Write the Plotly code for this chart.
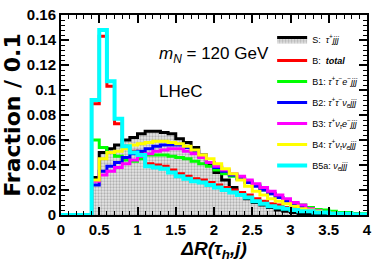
import plotly.graph_objects as go

# ---- data: fraction per 0.1 bin of Delta R(tau_h, j), bins 0.0 .. 3.9 ----
bin_lo = [round(0.1 * i, 1) for i in range(40)]
bin_width = 0.1

S_signal = [0, 0, 0, 0, 0.030, 0.050, 0.053, 0.056, 0.060, 0.062,
            0.065, 0.067, 0.067, 0.066, 0.065, 0.061, 0.058, 0.054, 0.048, 0.041,
            0.034, 0.028, 0.022, 0.017, 0.013, 0.010, 0.008, 0.006, 0.004, 0.003,
            0.002, 0.001, 0.0005, 0.0003, 0, 0, 0, 0, 0, 0]
B_total = [0, 0, 0, 0, 0.089, 0.143, 0.103, 0.073, 0.055, 0.051,
           0.049, 0.041, 0.040, 0.039, 0.036, 0.033, 0.031, 0.029, 0.028, 0.026,
           0.024, 0.022, 0.020, 0.018, 0.016, 0.013, 0.011, 0.009, 0.008, 0.006,
           0.005, 0.004, 0.003, 0.003, 0.002, 0.002, 0.001, 0.001, 0.001, 0.0005]
B1 = [0, 0, 0, 0, 0.060, 0.054, 0.050, 0.047, 0.044, 0.043,
      0.045, 0.048, 0.048, 0.048, 0.047, 0.046, 0.045, 0.043, 0.041, 0.039,
      0.036, 0.033, 0.031, 0.029, 0.027, 0.024, 0.020, 0.017, 0.014, 0.012,
      0.009, 0.008, 0.006, 0.0045, 0.004, 0.003, 0.002, 0.002, 0.001, 0.001]
B2 = [0, 0, 0, 0, 0.024, 0.035, 0.039, 0.042, 0.046, 0.049,
      0.051, 0.053, 0.055, 0.056, 0.056, 0.056, 0.054, 0.051, 0.047, 0.042,
      0.038, 0.035, 0.032, 0.029, 0.026, 0.023, 0.020, 0.017, 0.014, 0.011,
      0.008, 0.006, 0.004, 0.003, 0.002, 0.001, 0.001, 0.0005, 0.0003, 0]
B3 = [0, 0, 0, 0, 0.027, 0.032, 0.035, 0.038, 0.041, 0.044,
      0.047, 0.049, 0.051, 0.052, 0.053, 0.053, 0.051, 0.049, 0.046, 0.042,
      0.039, 0.036, 0.033, 0.031, 0.028, 0.025, 0.022, 0.019, 0.016, 0.013,
      0.010, 0.008, 0.005, 0.0035, 0.002, 0.0015, 0.001, 0.0008, 0.0005, 0.0003]
B4 = [0, 0, 0, 0, 0.028, 0.045, 0.050, 0.051, 0.053, 0.056,
      0.057, 0.058, 0.059, 0.059, 0.058, 0.057, 0.055, 0.052, 0.048, 0.045,
      0.041, 0.037, 0.033, 0.028, 0.023, 0.019, 0.016, 0.013, 0.011, 0.009,
      0.007, 0.005, 0.004, 0.003, 0.002, 0.0015, 0.001, 0.001, 0.0005, 0.0003]
B5a = [0, 0, 0, 0, 0.092, 0.148, 0.107, 0.077, 0.055, 0.050,
       0.048, 0.039, 0.038, 0.037, 0.034, 0.031, 0.029, 0.027, 0.026, 0.024,
       0.022, 0.020, 0.018, 0.016, 0.014, 0.011, 0.009, 0.007, 0.006, 0.005,
       0.004, 0.003, 0.003, 0.002, 0.002, 0.001, 0.001, 0.001, 0.0005, 0.0005]

series_names = [
    "S:  <i>τ<sup>+</sup>jjj</i>",
    "B:  <b><i>total</i></b>",
    "B1: <i>τ<sup>+</sup>τ<sup>−</sup>e<sup>−</sup>jjj</i>",
    "B2: <i>τ<sup>+</sup>τ<sup>−</sup>ν<sub>e</sub>jjj</i>",
    "B3: <i>τ<sup>+</sup>ν<sub>τ</sub>e<sup>−</sup>jjj</i>",
    "B4: <i>τ<sup>+</sup>ν<sub>τ</sub>ν<sub>e</sub>jjj</i>",
    "B5a: <i>ν<sub>e</sub>jjj</i>",
]
series_values = [S_signal, B_total, B1, B2, B3, B4, B5a]
series_colors = ["#000000", "#ff0000", "#00ff00", "#0000ff", "#ff00ff", "#ffff00", "#00ffff"]

y_tickvals = [0, 0.02, 0.04, 0.06, 0.08, 0.1, 0.12, 0.14, 0.16]
y_ticktext = ["0", "0.02", "0.04", "0.06", "0.08", "0.1", "0.12", "0.14", "0.16"]
x_tickvals = [0, 0.5, 1, 1.5, 2, 2.5, 3, 3.5, 4]
x_ticktext = ["0", "0.5", "1", "1.5", "2", "2.5", "3", "3.5", "4"]

SANS = "Liberation Sans, Arial, sans-serif"

fig = go.Figure()
edges = bin_lo + [round(bin_lo[-1] + bin_width, 1)]
for i, (name, vals, col) in enumerate(zip(series_names, series_values, series_colors)):
    yv = list(vals) + [vals[-1]]
    kw = {}
    if i == 0:
        kw = dict(fill="tozeroy",
                  fillcolor="#d9d9d9",
                  fillpattern=dict(shape=".", fgcolor="#7a7a7a", bgcolor="#e6e6e6",
                                   size=3, solidity=0.45))
    fig.add_trace(go.Scatter(
        x=edges, y=yv, mode="lines", name=name, legendgroup=f"g{i}",
        line=dict(color=col, width=4 if i == 6 else 3, shape="hv"),
        **kw))

axis_common = dict(
    showline=True, linecolor="black", linewidth=2, mirror="allticks",
    ticks="inside", ticklen=8, tickwidth=1.5, tickcolor="black",
    showgrid=False, zeroline=False,
    tickfont=dict(family=SANS, size=15, color="black", weight="bold"),
)

fig.update_xaxes(range=[0, 4], tickmode="array", tickvals=x_tickvals, ticktext=x_ticktext,
                 minor=dict(ticks="inside", ticklen=4, dtick=0.1, tick0=0, tickwidth=1, tickcolor="black"),
                 title=dict(text="<b><i>ΔR(τ<sub>h</sub>,j)</i></b>",
                            font=dict(family=SANS, size=19, color="black"), standoff=0),
                 **axis_common)
fig.update_yaxes(range=[0, 0.16], tickmode="array", tickvals=y_tickvals, ticktext=y_ticktext,
                 minor=dict(ticks="inside", ticklen=4, dtick=0.004, tick0=0, tickwidth=1, tickcolor="black"),
                 title=dict(text="<b>Fraction / 0.1</b>",
                            font=dict(family="DejaVu Sans", size=22, color="black"), standoff=4),
                 **axis_common)

fig.add_annotation(xref="paper", yref="paper", x=0.314, y=0.80, xanchor="left", yanchor="middle",
                   text="<i>m</i><sub><i>N</i></sub> = 120 GeV", showarrow=False,
                   font=dict(family=SANS, size=17, color="black"))
fig.add_annotation(xref="paper", yref="paper", x=0.314, y=0.62, xanchor="left", yanchor="middle",
                   text="LHeC", showarrow=False,
                   font=dict(family=SANS, size=17, color="black"))

fig.update_layout(
    width=382, height=273,
    margin=dict(l=61, r=15, t=15, b=58, autoexpand=False),
    paper_bgcolor="white", plot_bgcolor="white",
    showlegend=True,
    legend=dict(x=0.69, y=0.95, xanchor="left", yanchor="top",
                bgcolor="rgba(0,0,0,0)", borderwidth=0,
                font=dict(family=SANS, size=9, color="black"),
                itemwidth=30, tracegroupgap=2),
)

fig.write_html("out.html", config={"displayModeBar": False},
               post_script="document.body.style.margin='0px';")
